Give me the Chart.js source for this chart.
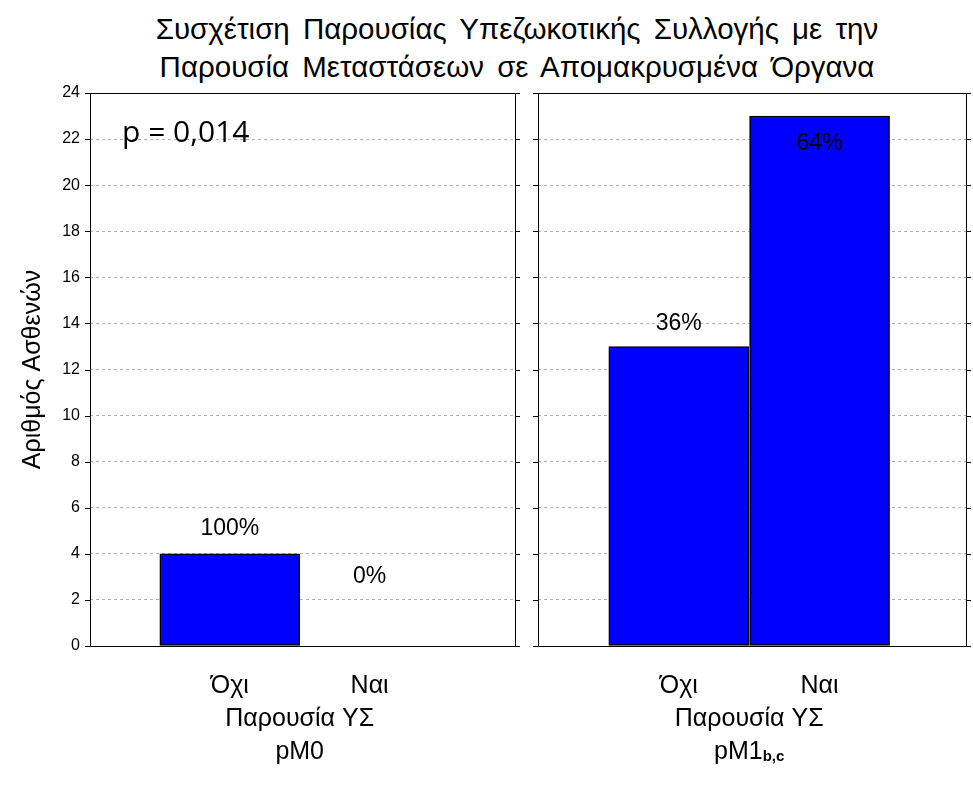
<!DOCTYPE html>
<html><head><meta charset="utf-8">
<script src="https://cdn.jsdelivr.net/npm/chart.js@4"></script>
<style>
body{margin:0;background:#fff;width:973px;height:786px;position:relative;overflow:hidden;font-family:'Liberation Sans',Arial,sans-serif}
#title{position:absolute;left:0;width:1034px;top:10px;text-align:center;font-size:29.5px;line-height:38px;word-spacing:5px;color:#000}
canvas{position:absolute;top:0}
#c1{left:0}#c2{left:528px}
#pv{position:absolute;left:122px;top:110px;font-family:'Open Sans',sans-serif;font-size:30px}
</style></head><body>
<div id="title">Συσχέτιση Παρουσίας Υπεζωκοτικής Συλλογής με την<br>Παρουσία Μεταστάσεων σε Απομακρυσμένα Όργανα</div>
<div style="position:absolute;left:0;top:0;width:973px;height:786px">
<canvas id="c1" width="525" height="786" style="width:525px;height:786px"></canvas>
<canvas id="c2" width="445" height="786" style="width:445px;height:786px"></canvas>
</div>
<div id="pv">p = 0,014</div>
<script>
// ─── Data ───
const categories = ['Όχι', 'Ναι'];
const pM0 = [4, 0];
const pM1 = [13, 23];
const pM0Pct = ['100%', '0%'];
const pM1Pct = ['36%', '64%'];
const pM0LabelY = [5.1, 3.0];
const pM1LabelY = [14.0, 21.8];
const yTicks = [0,2,4,6,8,10,12,14,16,18,20,22,24];

// ─── Panel decoration ───
function panelPlugin(pct, labelY, groupName) {
    return {
        id: 'panel',
        afterDraw(chart) {
            const c = chart.ctx, a = chart.chartArea, x = chart.scales.x, y = chart.scales.y;
            c.save();
            c.strokeStyle = '#000'; c.lineWidth = 1;
            c.strokeRect(a.left + 0.5, a.top + 0.5, a.right - a.left, a.bottom - a.top);
            yTicks.forEach(v => {
                const py = Math.round(y.getPixelForValue(v)) + 0.5;
                c.beginPath();
                c.moveTo(a.left - 5, py); c.lineTo(a.left, py);
                c.moveTo(a.right, py); c.lineTo(a.right + 5, py);
                c.stroke();
            });
            c.fillStyle = '#000'; c.textAlign = 'center'; c.textBaseline = 'middle';
            c.font = "23px 'Liberation Sans', Arial, sans-serif";
            pct.forEach((t, i) => c.fillText(t, x.getPixelForValue(i + 1), y.getPixelForValue(labelY[i])));
            c.font = "25px 'Liberation Sans', Arial, sans-serif";
            categories.forEach((t, i) => c.fillText(t, x.getPixelForValue(i + 1), a.bottom + 40));
            const mid = (x.getPixelForValue(1) + x.getPixelForValue(2)) / 2;
            c.fillText('Παρουσία ΥΣ', mid, a.bottom + 73);
            if (groupName === 'pM0') {
                c.fillText('pM0', mid, a.bottom + 106);
            } else {
                c.textAlign = 'left';
                const w = c.measureText('pM1').width;
                c.font = "bold 15px 'Liberation Sans', Arial, sans-serif";
                const w2 = c.measureText('b,c').width;
                const sx = mid - (w + w2) / 2;
                c.font = "25px 'Liberation Sans', Arial, sans-serif";
                c.fillText('pM1', sx, a.bottom + 106);
                c.font = "bold 15px 'Liberation Sans', Arial, sans-serif";
                c.fillText('b,c', sx + w, a.bottom + 111);
            }
            c.restore();
        }
    };
}

function makeChart(id, values, pct, labelY, groupName, showY) {
    new Chart(document.getElementById(id), {
        type: 'bar',
        data: { datasets: [{
            data: values.map((v, i) => ({ x: i + 1, y: v })),
            backgroundColor: '#0000ff', borderColor: '#000', borderWidth: 1.5,
            barThickness: 140, borderSkipped: false
        }] },
        options: {
            responsive: false, animation: false,
            layout: { padding: { top: 93, bottom: 140, left: showY ? 18 : 10, right: showY ? 10 : 7 } },
            plugins: { legend: { display: false }, tooltip: { enabled: false } },
            scales: {
                x: { type: 'linear', min: 0, max: 3.04, offset: false, display: false },
                y: {
                    min: 0, max: 24,
                    afterFit: s => { s.width = showY ? 72 : 0; },
                    afterBuildTicks: s => { s.ticks = yTicks.map(v => ({ value: v })); },
                    border: { display: false, dash: [3, 3] },
                    grid: { color: '#b0b0b0', tickLength: 0, drawTicks: false },
                    ticks: { display: showY, color: '#000', padding: 10,
                        font: { family: "'Liberation Sans', Arial", size: 16 } },
                    title: { display: showY, text: 'Αριθμός Ασθενών', color: '#000',
                        font: { family: "'Liberation Sans', Arial", size: 25 }, padding: 0 }
                }
            }
        },
        plugins: [panelPlugin(pct, labelY, groupName)]
    });
}

makeChart('c1', pM0, pM0Pct, pM0LabelY, 'pM0', true);
makeChart('c2', pM1, pM1Pct, pM1LabelY, 'pM1', false);
</script>
</body></html>
